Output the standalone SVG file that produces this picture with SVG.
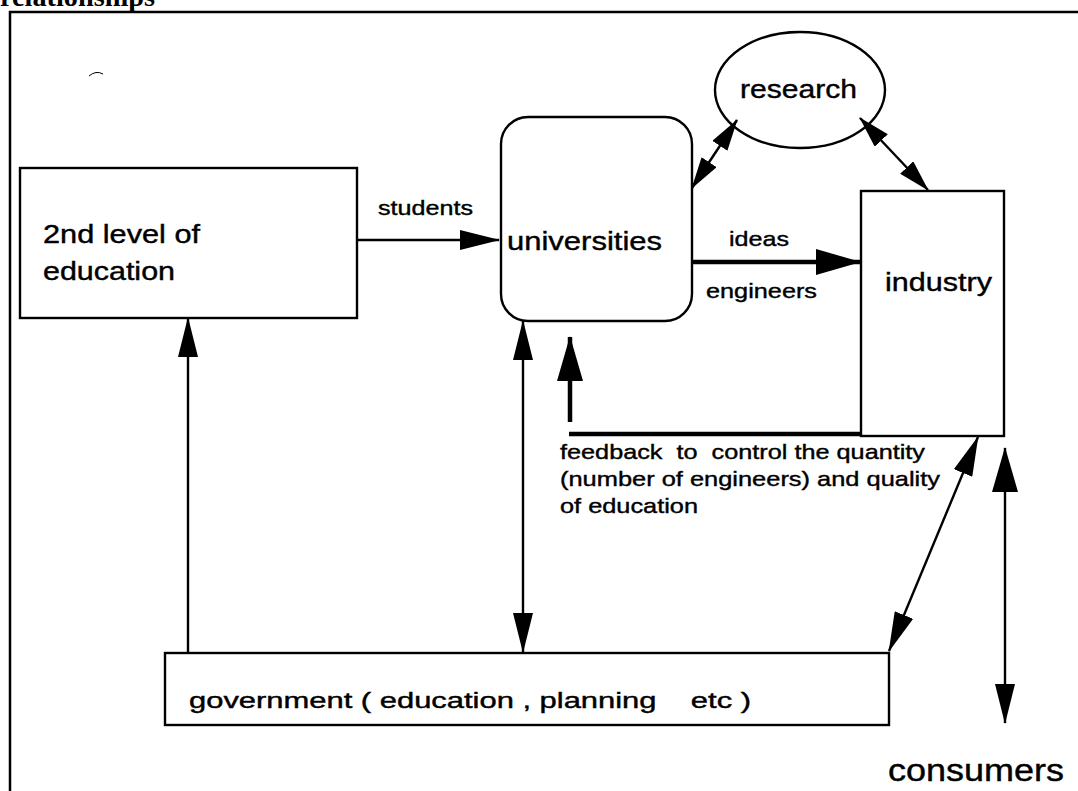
<svg xmlns="http://www.w3.org/2000/svg" width="1078" height="791" viewBox="0 0 1078 791">
<style>
.box{fill:none;stroke:#000;stroke-width:2.4}
.ln{fill:none;stroke:#000;stroke-width:2.4}
.thick{fill:none;stroke:#000;stroke-width:4.5}
.t{font-family:"Liberation Sans",Arial,sans-serif;fill:#000;stroke:#000;stroke-width:0.4;white-space:pre}
</style>
<defs>
<marker id="ah" viewBox="0 0 40 20" refX="39" refY="10" markerWidth="40" markerHeight="20" markerUnits="userSpaceOnUse" orient="auto-start-reverse"><path d="M0,0 L40,10 L0,20 z" fill="#000"/></marker>
<marker id="ahs" viewBox="0 0 32 18" refX="31" refY="9" markerWidth="32" markerHeight="18" markerUnits="userSpaceOnUse" orient="auto-start-reverse"><path d="M0,0 L32,9 L0,18 z" fill="#000"/></marker>
<marker id="ahb" viewBox="0 0 45 26" refX="44" refY="13" markerWidth="45" markerHeight="26" markerUnits="userSpaceOnUse" orient="auto-start-reverse"><path d="M0,0 L45,13 L0,26 z" fill="#000"/></marker>
</defs>
<rect width="1078" height="791" fill="#fff"/>
<text class="t" x="0" y="6" style="font-family:'Liberation Serif','Times New Roman',serif;font-weight:bold;stroke:none" font-size="28" textLength="155" lengthAdjust="spacingAndGlyphs">relationships</text>
<path d="M10,791 V12 H1078" fill="none" stroke="#000" stroke-width="2.5"/>
<path d="M89,76 Q96,70 103,74" fill="none" stroke="#000" stroke-width="1"/>
<g id="secondlevel">
<rect class="box" x="20" y="168" width="337" height="150"/>
<text class="t" x="43" y="243" font-size="25" textLength="157" lengthAdjust="spacingAndGlyphs">2nd level of</text>
<text class="t" x="43" y="280" font-size="25" textLength="132" lengthAdjust="spacingAndGlyphs">education</text>
</g>
<g id="universities">
<rect class="box" x="501" y="117" width="191" height="204" rx="27" ry="27"/>
<text class="t" x="507" y="250" font-size="26" textLength="155" lengthAdjust="spacingAndGlyphs">universities</text>
</g>
<g id="research">
<ellipse class="box" cx="800" cy="90" rx="85" ry="58"/>
<text class="t" x="740" y="98" font-size="26" textLength="117" lengthAdjust="spacingAndGlyphs">research</text>
</g>
<g id="industry">
<rect class="box" x="861" y="191" width="143" height="245"/>
<text class="t" x="885" y="291" font-size="26" textLength="107" lengthAdjust="spacingAndGlyphs">industry</text>
</g>
<g id="government">
<rect class="box" x="165" y="653" width="724" height="72"/>
<text class="t" x="189" y="708" font-size="22" textLength="562" lengthAdjust="spacingAndGlyphs">government ( education , planning    etc )</text>
</g>
<g id="consumers">
<text class="t" x="888" y="781" font-size="31" textLength="176" lengthAdjust="spacingAndGlyphs">consumers</text>
</g>
<g id="connectors">
<line class="ln" x1="357" y1="240" x2="499" y2="240" marker-end="url(#ah)"/>
<line class="thick" x1="692" y1="262" x2="860" y2="262" marker-end="url(#ahb)"/>
<line class="ln" x1="737" y1="120" x2="692" y2="188" stroke-width="3" marker-start="url(#ahs)" marker-end="url(#ahs)"/>
<line class="ln" x1="860" y1="118" x2="928" y2="190" stroke-width="3" marker-start="url(#ahs)" marker-end="url(#ahs)"/>
<line class="thick" x1="569" y1="434" x2="861" y2="434"/>
<line class="thick" x1="570" y1="422" x2="570" y2="337" marker-end="url(#ahb)"/>
<line class="ln" x1="188" y1="653" x2="188" y2="318" marker-end="url(#ah)"/>
<line class="ln" x1="523" y1="321" x2="523" y2="652" marker-start="url(#ah)" marker-end="url(#ah)"/>
<line class="ln" x1="978" y1="437" x2="889" y2="651" stroke-width="2.6" marker-start="url(#ah)" marker-end="url(#ah)"/>
<line class="ln" x1="1005" y1="448" x2="1005" y2="723" marker-start="url(#ahb)" marker-end="url(#ah)"/>
<text class="t" x="378" y="215" font-size="21" textLength="95" lengthAdjust="spacingAndGlyphs">students</text>
<text class="t" x="729" y="246" font-size="21" textLength="60" lengthAdjust="spacingAndGlyphs">ideas</text>
<text class="t" x="706" y="298" font-size="21" textLength="111" lengthAdjust="spacingAndGlyphs">engineers</text>
<text class="t" x="560" y="459" font-size="21" textLength="365" lengthAdjust="spacingAndGlyphs">feedback  to  control the quantity</text>
<text class="t" x="560" y="486" font-size="21" textLength="380" lengthAdjust="spacingAndGlyphs">(number of engineers) and quality</text>
<text class="t" x="560" y="513" font-size="21" textLength="138" lengthAdjust="spacingAndGlyphs">of education</text>
</g>
</svg>
